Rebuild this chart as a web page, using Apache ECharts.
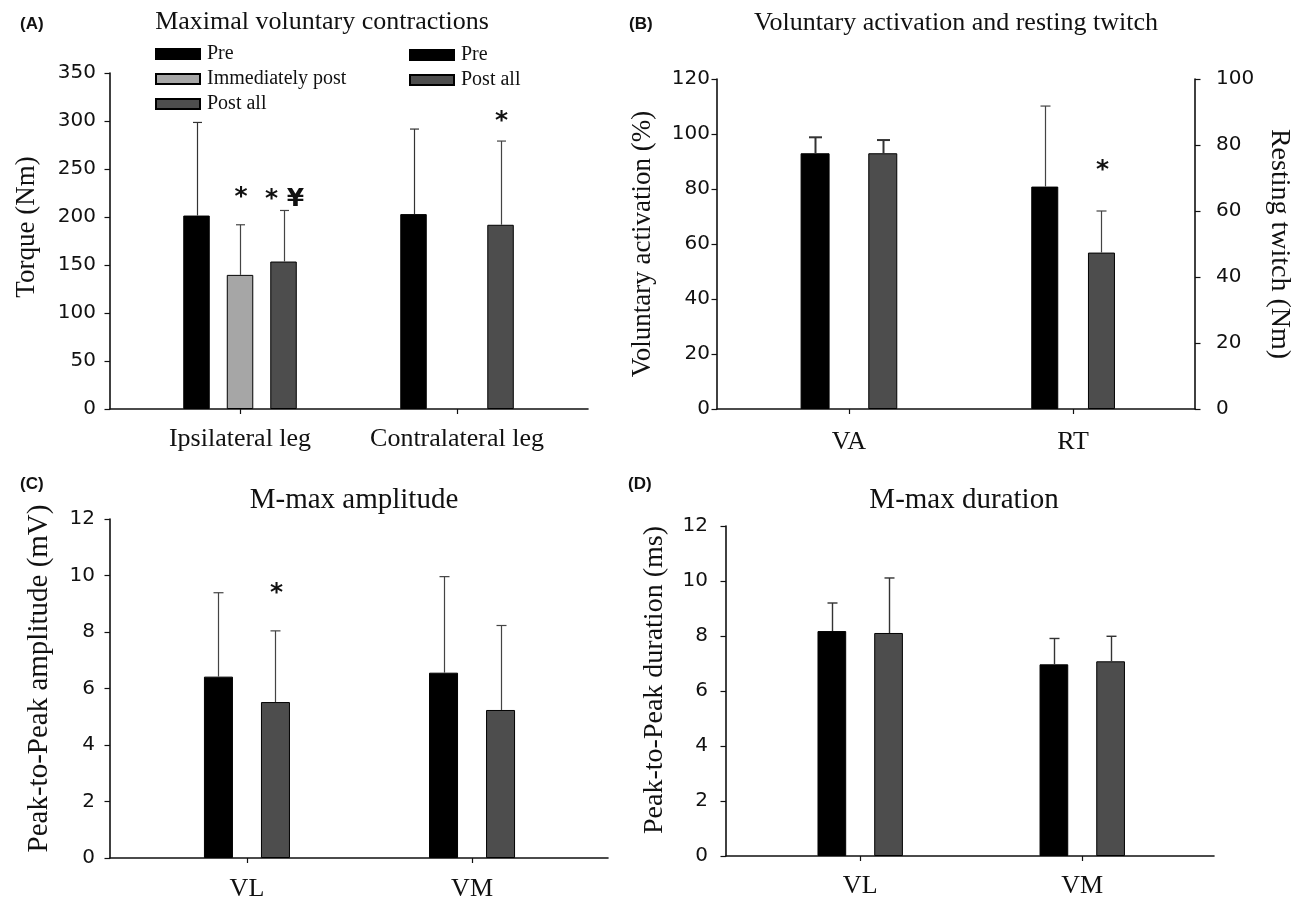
<!DOCTYPE html>
<html><head><meta charset="utf-8">
<script src="https://cdn.jsdelivr.net/npm/echarts@6/dist/echarts.min.js"></script>
<style>html,body{margin:0;padding:0;background:#fff}#c{width:1298px;height:899px}</style>
</head><body><div id="c"></div>
<script>
// ================= DATA =================
// (A) Maximal voluntary contractions — torque (Nm)
const catsA = ['Ipsilateral leg', 'Contralateral leg'];
const mvcPre = [201.5, 203.0];
const mvcPreSD = [97.0, 88.6];
const mvcImm = [139.7, null];
const mvcImmSD = [52.2, null];
const mvcPost = [153.6, 191.9];
const mvcPostSD = [53.2, 87.2];
const mvcImmSig = ['*', ''];
const mvcImmSigY = [227, null];
const mvcPostSig = ['* \u00A5', '*'];
const mvcPostSigY = [225, 306];

// (B) Voluntary activation (%) and resting twitch (Nm)
const catsB = ['VA', 'RT'];
const vaPre = [93.0];
const vaPreSD = [5.8];
const vaPost = [93.0];
const vaPostSD = [4.8];
const rtPre = [67.4];
const rtPreSD = [24.4];
const rtPost = [47.4];
const rtPostSD = [12.6];
const rtPostSig = ['*'];
const rtPostSigY = [74];

// (C) M-max amplitude (mV)
const catsC = ['VL', 'VM'];
const ampPre = [6.42, 6.56];
const ampPreSD = [2.97, 3.40];
const ampPost = [5.52, 5.24];
const ampPostSD = [2.52, 2.99];
const ampPostSig = ['*', ''];
const ampPostSigY = [9.58, null];

// (D) M-max duration (ms)
const catsD = ['VL', 'VM'];
const durPre = [8.18, 6.97];
const durPreSD = [1.02, 0.94];
const durPost = [8.11, 7.08];
const durPostSD = [2.00, 0.91];

// ================= LAYOUT / STYLE =================
const COL_PRE = '#000000', COL_IMM = '#a6a6a6', COL_POST = '#4d4d4d';
const INK = '#111111';
const SERIF = 'Liberation Serif', SANS = 'DejaVu Sans';

const option = {
  backgroundColor: '#ffffff', animation: false,
  grid: [], xAxis: [], yAxis: [], series: [], legend: [], title: []
};

function addGrid(box) {
  option.grid.push(Object.assign({ outerBoundsMode: 'none', containLabel: false }, box));
  return option.grid.length - 1;
}
function addXAxis(gi, pos, cats, labelMargin, show) {
  const lookup = {};
  pos.forEach((p, i) => { lookup[p.toFixed(4)] = cats[i]; });
  option.xAxis.push({
    type: 'value', gridIndex: gi, min: 0, max: 1, show: show !== false, position: 'bottom',
    axisLine: { show: true, onZero: false, lineStyle: { color: INK, width: 1.6 } },
    axisTick: { show: true, customValues: pos, length: 5, lineStyle: { color: INK, width: 1.2 } },
    axisLabel: { show: true, customValues: pos, margin: labelMargin,
      formatter: v => lookup[Number(v).toFixed(4)] || '',
      fontFamily: SERIF, fontSize: 26, color: INK },
    splitLine: { show: false }
  });
  return option.xAxis.length - 1;
}
function addYAxis(gi, o) {
  option.yAxis.push({
    type: 'value', gridIndex: gi, min: o.min, max: o.max, interval: o.interval,
    position: o.position || 'left',
    name: o.name, nameLocation: 'middle', nameGap: o.nameGap,
    nameRotate: o.nameRotate,
    nameTextStyle: { fontFamily: SERIF, fontSize: o.nameSize || 27, color: INK, padding: o.namePad || 0 },
    axisLine: { show: true, onZero: false, lineStyle: { color: INK, width: 1.6 } },
    axisTick: { show: true, length: 5.5, lineStyle: { color: INK, width: 1.2 } },
    axisLabel: { margin: o.labelMargin, fontFamily: SANS, fontSize: 20, color: INK },
    splitLine: { show: false }
  });
  return option.yAxis.length - 1;
}
function addBars(xi, yi, name, pos, vals, color, barWidth, pitch) {
  const data = [];
  pos.forEach((p, i) => { if (vals[i] != null) data.push([p, vals[i]]); });
  option.series.push({
    type: 'bar', name, xAxisIndex: xi, yAxisIndex: yi, barWidth,
    barGap: ((pitch - barWidth) / barWidth * 100).toFixed(1) + '%',
    data, itemStyle: { color, borderColor: '#000', borderWidth: 1 }, z: 2, silent: true
  });
}
function addErr(xi, yi, pos, vals, sds, slot, n, pitch, capW, lw, color) {
  const data = [];
  pos.forEach((p, i) => { if (vals[i] != null) data.push([p, vals[i], sds[i]]); });
  option.series.push({
    type: 'custom', xAxisIndex: xi, yAxisIndex: yi, silent: true, z: 3,
    encode: { x: 0, y: 1 }, data,
    renderItem: (params, api) => {
      const x = api.value(0), m = api.value(1), s = api.value(2);
      const off = (slot - (n - 1) / 2) * pitch;
      const p0 = api.coord([x, m]), p1 = api.coord([x, m + s]);
      const cx = Math.round(p0[0] + off) + 0.5;
      return { type: 'group', children: [
        { type: 'line', shape: { x1: cx, y1: p0[1], x2: cx, y2: p1[1] }, style: { stroke: color, lineWidth: lw } },
        { type: 'line', shape: { x1: cx - capW / 2, y1: p1[1], x2: cx + capW / 2, y2: p1[1] }, style: { stroke: color, lineWidth: lw } }
      ]};
    }
  });
}
// asterisk glyphs sit high in the em box; GLYPH_DROP re-centres them on the value
const GLYPH_DROP = 6;
function addSig(xi, yi, pos, ys, texts, slot, n, pitch) {
  const data = [];
  pos.forEach((p, i) => { if (ys[i] != null && texts[i]) data.push([p, ys[i], i]); });
  option.series.push({
    type: 'custom', xAxisIndex: xi, yAxisIndex: yi, silent: true, z: 4,
    encode: { x: 0, y: 1 }, data,
    renderItem: (params, api) => {
      const x = api.value(0), y = api.value(1), idx = api.value(2);
      const off = (slot - (n - 1) / 2) * pitch;
      const p = api.coord([x, y]);
      return { type: 'text', x: p[0] + off + 1, y: p[1] + GLYPH_DROP,
        style: { text: texts[idx], fill: INK, fontFamily: SANS, fontWeight: 'bold', fontSize: 25,
                 align: 'center', verticalAlign: 'middle' } };
    }
  });
}

// ---------- Panel A ----------
const posA = [0.272, 0.726];
const gA = addGrid({ left: 110, top: 73, width: 478, height: 336 });
const xA = addXAxis(gA, posA, catsA, 17);
const yA = addYAxis(gA, { min: 0, max: 350, interval: 50, name: 'Torque (Nm)', nameGap: 70, labelMargin: 14, namePad: [0, 0, 0, 28] });
const bwA = 26.5, pA = 43.5;
addBars(xA, yA, 'Pre', posA, mvcPre, COL_PRE, bwA, pA);
addBars(xA, yA, 'Immediately post', posA, mvcImm, COL_IMM, bwA, pA);
addBars(xA, yA, 'Post all', posA, mvcPost, COL_POST, bwA, pA);
addErr(xA, yA, posA, mvcPre, mvcPreSD, 0, 3, pA, 9, 1.2, '#333');
addErr(xA, yA, posA, mvcImm, mvcImmSD, 1, 3, pA, 9, 1.2, '#444');
addErr(xA, yA, posA, mvcPost, mvcPostSD, 2, 3, pA, 9, 1.2, '#444');
addSig(xA, yA, posA, mvcImmSigY, mvcImmSig, 1, 3, pA);
addSig(xA, yA, posA, mvcPostSigY, mvcPostSig, 2, 3, pA);

// ---------- Panel B ----------
const posB = [0.276, 0.745];
const gB = addGrid({ left: 717, top: 79, width: 478, height: 330 });
const xB = addXAxis(gB, posB, catsB, 20);
const xB2 = addXAxis(gB, posB, catsB, 20, false);
const yBL = addYAxis(gB, { min: 0, max: 120, interval: 20, name: 'Voluntary activation (%)', nameGap: 61, labelMargin: 7 });
const yBR = addYAxis(gB, { min: 0, max: 100, interval: 20, position: 'right', name: 'Resting twitch (Nm)', nameGap: 70, nameRotate: -90, labelMargin: 21, nameSize: 28 });
const bwVA = 29, pVA = 67.7, bwRT = 27, pRT = 56.7;
addBars(xB, yBL, 'Pre', [posB[0]], vaPre, COL_PRE, bwVA, pVA);
addBars(xB, yBL, 'Post all', [posB[0]], vaPost, COL_POST, bwVA, pVA);
addBars(xB2, yBR, 'Pre', [posB[1]], rtPre, COL_PRE, bwRT, pRT);
addBars(xB2, yBR, 'Post all', [posB[1]], rtPost, COL_POST, bwRT, pRT);
addErr(xB, yBL, [posB[0]], vaPre, vaPreSD, 0, 2, pVA, 13, 2, '#333');
addErr(xB, yBL, [posB[0]], vaPost, vaPostSD, 1, 2, pVA, 13, 2, '#333');
addErr(xB2, yBR, [posB[1]], rtPre, rtPreSD, 0, 2, pRT, 10, 1.2, '#444');
addErr(xB2, yBR, [posB[1]], rtPost, rtPostSD, 1, 2, pRT, 10, 1.2, '#444');
addSig(xB2, yBR, [posB[1]], rtPostSigY, rtPostSig, 1, 2, pRT);

// ---------- Panel C ----------
const posC = [0.275, 0.727];
const gC = addGrid({ left: 110, top: 519, width: 498, height: 339 });
const xC = addXAxis(gC, posC, catsC, 18);
const yC = addYAxis(gC, { min: 0, max: 12, interval: 2, name: 'Peak-to-Peak amplitude (mV)', nameGap: 56, labelMargin: 15, namePad: [0, 0, 0, 20], nameSize: 29 });
const bwC = 29, pC = 57;
addBars(xC, yC, 'Pre', posC, ampPre, COL_PRE, bwC, pC);
addBars(xC, yC, 'Post all', posC, ampPost, COL_POST, bwC, pC);
addErr(xC, yC, posC, ampPre, ampPreSD, 0, 2, pC, 10, 1.2, '#444');
addErr(xC, yC, posC, ampPost, ampPostSD, 1, 2, pC, 10, 1.2, '#444');
addSig(xC, yC, posC, ampPostSigY, ampPostSig, 1, 2, pC);

// ---------- Panel D ----------
const posD = [0.275, 0.730];
const gD = addGrid({ left: 726, top: 526, width: 488, height: 330 });
const xD = addXAxis(gD, posD, catsD, 17);
const yD = addYAxis(gD, { min: 0, max: 12, interval: 2, name: 'Peak-to-Peak duration (ms)', nameGap: 57, labelMargin: 18, namePad: [0, 0, 0, 22], nameSize: 28 });
const bwD = 28.7, pD = 56.7;
addBars(xD, yD, 'Pre', posD, durPre, COL_PRE, bwD, pD);
addBars(xD, yD, 'Post all', posD, durPost, COL_POST, bwD, pD);
addErr(xD, yD, posD, durPre, durPreSD, 0, 2, pD, 10, 1.4, '#333');
addErr(xD, yD, posD, durPost, durPostSD, 1, 2, pD, 10, 1.4, '#333');

// ---------- Legends (panel A) ----------
const legendText = { fontFamily: SERIF, fontSize: 20, color: INK, padding: [0, 0, 0, 2] };
option.legend.push({ data: ['Pre', 'Immediately post', 'Post all'], orient: 'vertical', left: 150, top: 39,
  itemWidth: 44, itemHeight: 10, itemGap: 5, icon: 'rect', selectedMode: false, textStyle: legendText });
option.legend.push({ data: ['Pre', 'Post all'], orient: 'vertical', left: 404, top: 40,
  itemWidth: 44, itemHeight: 10, itemGap: 5, icon: 'rect', selectedMode: false, textStyle: legendText });

// ---------- Titles & panel letters ----------
function addTitle(text, left, top, size, opts) {
  option.title.push(Object.assign({ text, left, top, padding: 0,
    textStyle: { fontFamily: SERIF, fontSize: size, fontWeight: 'normal', color: INK } }, opts || {}));
}
addTitle('Maximal voluntary contractions', 322, 9, 26, { textAlign: 'center' });
addTitle('Voluntary activation and resting twitch', 956, 10, 26, { textAlign: 'center' });
addTitle('M-max amplitude', 354, 486, 29, { textAlign: 'center' });
addTitle('M-max duration', 964, 486, 29, { textAlign: 'center' });
const letterStyle = { fontFamily: 'Liberation Sans', fontSize: 17, fontWeight: 'bold', color: INK };
option.title.push({ text: '(A)', left: 20, top: 16, padding: 0, textStyle: letterStyle });
option.title.push({ text: '(B)', left: 629, top: 16, padding: 0, textStyle: letterStyle });
option.title.push({ text: '(C)', left: 20, top: 476, padding: 0, textStyle: letterStyle });
option.title.push({ text: '(D)', left: 628, top: 476, padding: 0, textStyle: letterStyle });

const chart = echarts.init(document.getElementById('c'), null, { renderer: 'canvas' });
chart.setOption(option);
</script>
</body></html>
